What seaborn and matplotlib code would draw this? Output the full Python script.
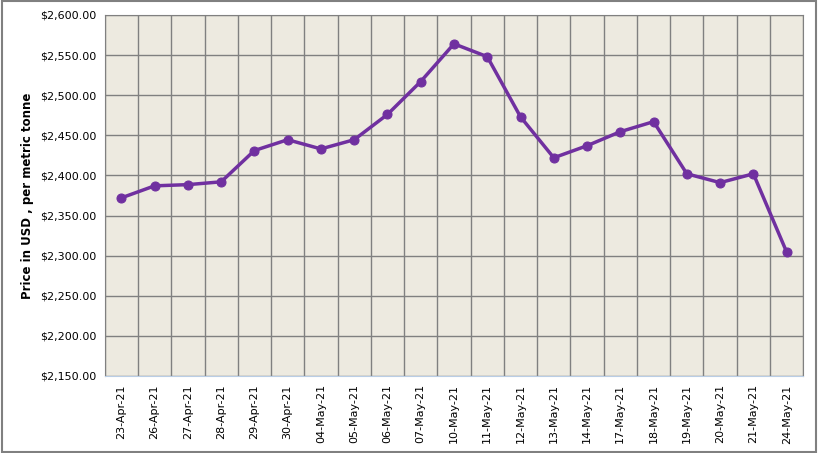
import numpy as np
import pandas as pd
import seaborn as sns
import matplotlib.pyplot as plt
from matplotlib.ticker import FixedLocator, FuncFormatter

dates = ['23-Apr-21', '26-Apr-21', '27-Apr-21', '28-Apr-21', '29-Apr-21', '30-Apr-21',
         '04-May-21', '05-May-21', '06-May-21', '07-May-21', '10-May-21', '11-May-21',
         '12-May-21', '13-May-21', '14-May-21', '17-May-21', '18-May-21', '19-May-21',
         '20-May-21', '21-May-21', '24-May-21']
prices = [2372, 2387, 2388.5, 2392, 2431, 2444.5, 2433, 2444.5, 2476, 2517, 2564,
          2548, 2473, 2422, 2437, 2454.5, 2467, 2402, 2391, 2402, 2304.5]

df = pd.DataFrame({'date': dates, 'price': prices})

sns.set_style('white')
plt.rcParams['font.family'] = ['DejaVu Sans']
plt.rcParams['text.color'] = 'black'
plt.rcParams['axes.labelcolor'] = 'black'
plt.rcParams['xtick.color'] = 'black'
plt.rcParams['ytick.color'] = 'black'

fig = plt.figure(figsize=(8.18, 4.53), dpi=100)
ax = fig.add_axes([0.128, 0.17, 0.854, 0.797])
ax.set_facecolor('#EDEAE0')

sns.lineplot(data=df, x='date', y='price', ax=ax, color='#7030A0', linewidth=2.5,
             marker='o', markersize=6.5, markeredgecolor='#7030A0', sort=False)

ax.set_xlim(-0.5, len(dates) - 0.5)
ax.set_ylim(2150, 2600)
ax.set_yticks(np.arange(2150, 2601, 50))
ax.yaxis.set_major_formatter(FuncFormatter(lambda v, p: f'${v:,.2f}'))
ax.set_xticks(range(len(dates)))
ax.set_xticklabels(dates, rotation=90, fontsize=8)
ax.tick_params(axis='y', labelsize=8, length=0, pad=6)
ax.tick_params(axis='x', length=0, pad=6)

ax.xaxis.set_minor_locator(FixedLocator(np.arange(-0.5, len(dates), 1)))
ax.grid(which='minor', axis='x', color='#808080', linewidth=1)
ax.grid(which='major', axis='y', color='#808080', linewidth=1)
ax.grid(which='major', axis='x', visible=False)
ax.set_axisbelow(True)

for s in ['top', 'right', 'left']:
    ax.spines[s].set_color('#808080')
ax.spines['bottom'].set_color('#B9CDE5')

ax.set_xlabel('')
ax.set_ylabel('Price in USD , per metric tonne', fontsize=8.5, fontweight='bold')

fig.patches.append(plt.Rectangle((0.002, 0.003), 0.996, 0.994, transform=fig.transFigure,
                                 fill=False, edgecolor='#808080', linewidth=1.5))

fig.savefig('out.png', dpi=100)
